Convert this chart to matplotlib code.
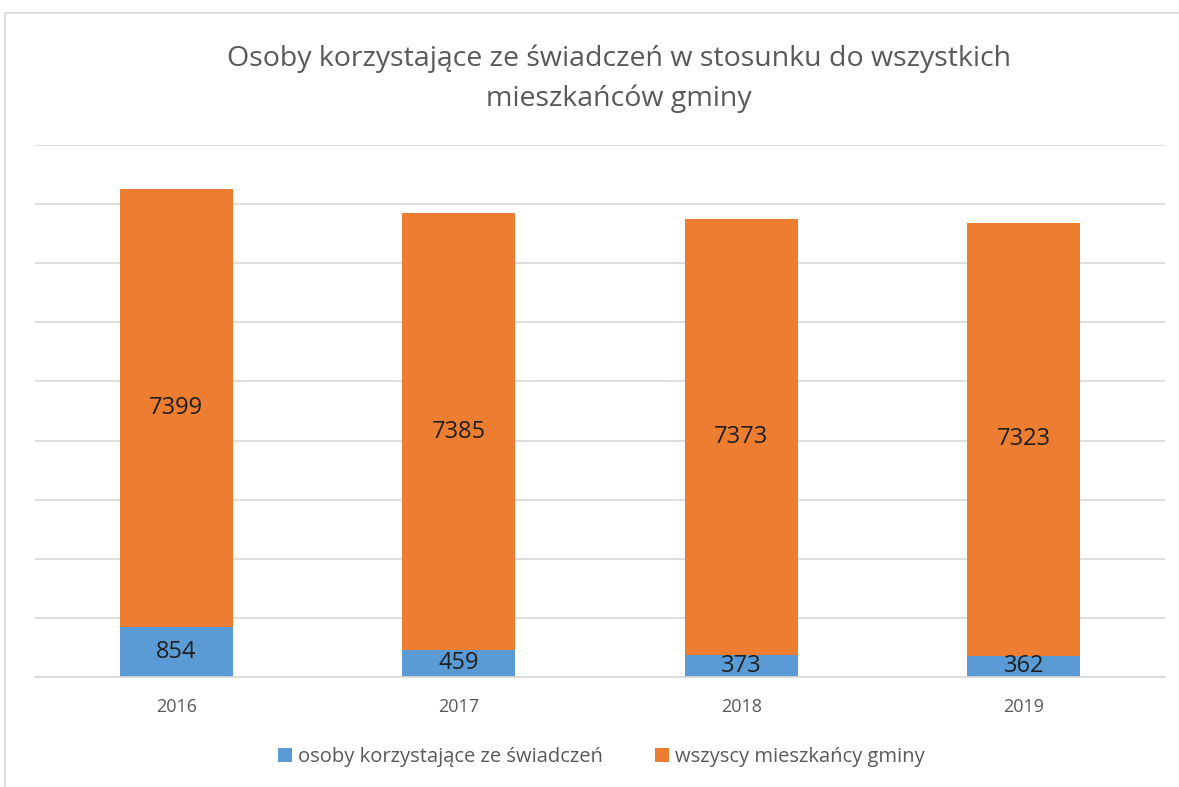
import matplotlib.pyplot as plt
from matplotlib.patches import Rectangle

plt.rcParams['font.family'] = ['Open Sans', 'DejaVu Sans']

# Dane
lata = ['2016', '2017', '2018', '2019']
korzystajacy = [854, 459, 373, 362]
mieszkancy = [7399, 7385, 7373, 7323]

niebieski = '#5B9BD5'
pomaranczowy = '#ED7D31'
szary = '#595959'

fig = plt.figure(figsize=(11.79, 7.87), dpi=100)
fig.patches.append(Rectangle((5/1179, -0.01), 1.2, 1 - 13/787 + 0.01,
                             transform=fig.transFigure, fill=False,
                             ec='#D9D9D9', lw=1.2))

ax = fig.add_axes([35/1179, 1 - 677/787, 1130/1179, 532/787])
x = range(len(lata))
b1 = ax.bar(x, korzystajacy, width=0.4, color=niebieski, zorder=2,
            label='osoby korzystające ze świadczeń')
b2 = ax.bar(x, mieszkancy, width=0.4, bottom=korzystajacy, color=pomaranczowy,
            zorder=2, label='wszyscy mieszkańcy gminy')
ax.bar_label(b1, label_type='center', fontsize=17, color='#1f1f1f')
ax.bar_label(b2, label_type='center', fontsize=17, color='#1f1f1f')

ax.set_xlim(-0.5, 3.5)
ax.set_ylim(0, 9000)
ax.set_yticks(range(0, 9001, 1000))
ax.yaxis.grid(True, color='#D9D9D9', lw=1.2, zorder=0)
ax.tick_params(axis='y', left=False, labelleft=False)
ax.tick_params(axis='x', length=0, pad=15, labelsize=13, labelcolor=szary)
ax.set_xticks(list(x))
ax.set_xticklabels(lata)
for s in ['top', 'right', 'left']:
    ax.spines[s].set_visible(False)
ax.spines['bottom'].set_color('#D9D9D9')
ax.spines['bottom'].set_linewidth(1.2)

fig.text(0.525, 1 - 79/787, 'Osoby korzystające ze świadczeń w stosunku do wszystkich\nmieszkańców gminy',
         ha='center', va='center', fontsize=20.5, color=szary, linespacing=1.55)

fig.legend(handles=[b1, b2], loc='center', bbox_to_anchor=(0.51, 1 - 757/787),
           ncol=2, frameon=False, fontsize=14.5, labelcolor=szary,
           handlelength=0.7, handleheight=0.7, handletextpad=0.3, columnspacing=2.6)

fig.savefig('out.png', dpi=100)
